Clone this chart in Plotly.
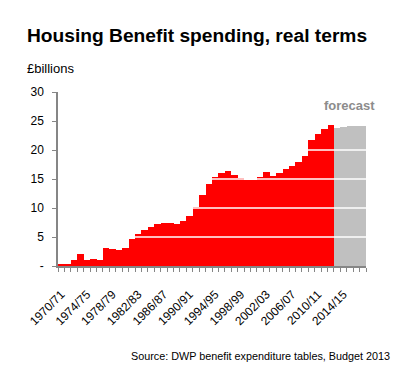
import plotly.graph_objects as go

years = ["1970/71", "1971/72", "1972/73", "1973/74", "1974/75", "1975/76", "1976/77", "1977/78",
         "1978/79", "1979/80", "1980/81", "1981/82", "1982/83", "1983/84", "1984/85", "1985/86",
         "1986/87", "1987/88", "1988/89", "1989/90", "1990/91", "1991/92", "1992/93", "1993/94",
         "1994/95", "1995/96", "1996/97", "1997/98", "1998/99", "1999/00", "2000/01", "2001/02",
         "2002/03", "2003/04", "2004/05", "2005/06", "2006/07", "2007/08", "2008/09", "2009/10",
         "2010/11", "2011/12", "2012/13", "2013/14", "2014/15", "2015/16", "2016/17", "2017/18"]

actual = [0.2, 0.2, 1.0, 2.1, 1.0, 1.2, 1.0, 3.1, 2.9, 2.8, 3.1, 4.7, 5.5, 6.2, 6.7, 7.2,
          7.4, 7.4, 7.2, 7.75, 8.6, 10.15, 12.2, 14.1, 15.3, 16.0, 16.4, 15.7, 15.15, 14.9,
          14.85, 15.3, 16.2, 15.5, 16.0, 16.7, 17.2, 17.9, 18.9, 21.7, 22.7, 23.6, 24.3]
forecast = [23.75, 23.9, 24.1, 24.1, 24.1]

y_ticks = [0, 5, 10, 15, 20, 25, 30]
y_ticktext = ["-", "5", "10", "15", "20", "25", "30"]
label_every = 4

FONT = "Liberation Sans, Arial, sans-serif"
AXIS_GREY = "#868686"

n_act = len(actual)
x_act = list(range(n_act))
x_fc = list(range(n_act, n_act + len(forecast)))
n_all = len(years)

fig = go.Figure()
fig.add_trace(go.Bar(x=x_act, y=actual, width=1, marker=dict(color="#FF0000", line=dict(width=0)),
                     hovertext=years[:n_act], name="actual"))
fig.add_trace(go.Bar(x=x_fc, y=forecast, width=1, marker=dict(color="#C0C0C0", line=dict(width=0)),
                     hovertext=years[n_act:], name="forecast"))

# white gridlines drawn over the bars
for v in y_ticks[1:-1]:
    fig.add_shape(type="line", xref="paper", x0=0, x1=1, yref="y", y0=v, y1=v,
                  line=dict(color="white", width=1.5), layer="above")

tv = list(range(0, n_all, label_every))
fig.update_layout(
    width=413, height=372,
    margin=dict(l=58, r=47, t=92, b=106),
    paper_bgcolor="white", plot_bgcolor="white",
    showlegend=False, bargap=0,
    font=dict(family=FONT, color="#000000", size=12),
    xaxis=dict(range=[-0.5, n_all - 0.5], tickmode="array", tickvals=tv,
               ticktext=[years[i] for i in tv], ticks="", tickangle=-45,
               showline=True, linecolor=AXIS_GREY, linewidth=1.5, showgrid=False, zeroline=False,
               tickfont=dict(size=12, family=FONT, color="#000"),
               ticklabelstandoff=15,
               minor=dict(tickmode="array", tickvals=[i - 0.5 for i in range(n_all + 1)],
                          ticks="outside", ticklen=4, tickcolor=AXIS_GREY, tickwidth=1, showgrid=False)),
    yaxis=dict(range=[0, 30], tickmode="array", tickvals=y_ticks, ticktext=y_ticktext,
               ticks="outside", ticklen=4, tickcolor=AXIS_GREY, tickwidth=1,
               showline=True, linecolor=AXIS_GREY, linewidth=1.5, showgrid=False, zeroline=False,
               tickfont=dict(size=12, family=FONT, color="#000"), ticklabelstandoff=6),
    annotations=[
        dict(text="<b>Housing Benefit spending, real terms</b>", xref="paper", yref="paper",
             x=-0.1071, y=1.3225, xanchor="left", yanchor="middle", showarrow=False,
             font=dict(size=19.2, family=FONT, color="#000")),
        dict(text="£billions", xref="paper", yref="paper", x=-0.1071, y=1.136,
             xanchor="left", yanchor="middle", showarrow=False,
             font=dict(size=13, family=FONT, color="#000")),
        dict(text="Source: DWP benefit expenditure tables, Budget 2013", xref="paper", yref="paper",
             x=1.0834, y=-0.5146, xanchor="right", yanchor="middle", showarrow=False,
             font=dict(size=10.8, family=FONT, color="#000")),
        dict(text="<b>forecast</b>", xref="x", yref="y", x=44.93, y=27.7,
             xanchor="center", yanchor="middle", showarrow=False,
             font=dict(size=13, family=FONT, color="#8C8C8C")),
    ],
)

fig.write_html("out.html", config={"displayModeBar": False},
               post_script="document.body.style.margin='0';document.body.style.overflow='hidden';")
